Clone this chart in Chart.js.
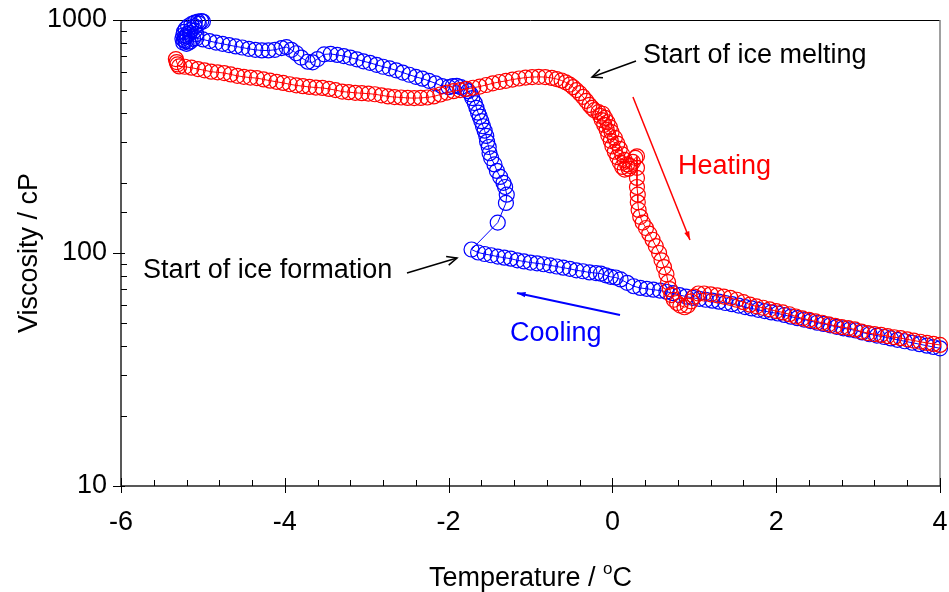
<!DOCTYPE html>
<html>
<head>
<meta charset="utf-8">
<script src="https://cdn.jsdelivr.net/npm/chart.js@4/dist/chart.umd.min.js"></script>
<style>
  body { margin: 0; background: #fff; }
</style>
</head>
<body>
<canvas id="myChart" width="949" height="592"></canvas>
<script>
// heating run (red), in measurement order
const heatTemp = [
  -5.33, -5.32, -5.31, -5.29, -5.22, -5.14, -5.06, -4.98, -4.90, -4.82,
  -4.74, -4.66, -4.58, -4.50, -4.42, -4.34, -4.26, -4.18, -4.10, -4.02,
  -3.94, -3.86, -3.78, -3.70, -3.62, -3.54, -3.46, -3.38, -3.30, -3.22,
  -3.14, -3.06, -2.98, -2.90, -2.82, -2.74, -2.66, -2.58, -2.50, -2.42,
  -2.34, -2.26, -2.18, -2.10, -2.02, -1.94, -1.86, -1.78, -1.70, -1.62,
  -1.54, -1.46, -1.38, -1.30, -1.22, -1.14, -1.06, -0.98, -0.90, -0.82,
  -0.74, -0.68, -0.62, -0.57, -0.52, -0.48, -0.44, -0.40, -0.36, -0.32,
  -0.28, -0.25, -0.22, -0.17, -0.12, -0.15, -0.09, -0.13, -0.06, -0.10,
  -0.03, -0.07, -0.01, -0.05, 0.03, -0.02, 0.06, 0.00, 0.09, 0.03,
  0.12, 0.06, 0.15, 0.09, 0.18, 0.12, 0.20, 0.15, 0.22, 0.25,
  0.28, 0.30, 0.30, 0.30, 0.30, 0.31, 0.31, 0.32, 0.34, 0.37,
  0.41, 0.45, 0.49, 0.53, 0.57, 0.60, 0.63, 0.66, 0.68, 0.70,
  0.72, 0.75, 0.79, 0.83, 0.88, 0.92, 0.96, 1.00, 1.05, 1.12,
  1.20, 1.28, 1.36, 1.44, 1.52, 1.60, 1.68, 1.76, 1.84, 1.92,
  2.00, 2.08, 2.16, 2.24, 2.32, 2.40, 2.48, 2.56, 2.64, 2.72,
  2.80, 2.88, 2.96, 3.04, 3.12, 3.20, 3.28, 3.36, 3.44, 3.52,
  3.60, 3.68, 3.76, 3.84, 3.92, 4.00
];
const heatVisc = [
  680, 660, 645, 632, 630, 624, 616, 608, 600, 596,
  592, 584, 576, 570, 566, 563, 556, 549, 543, 537,
  530, 524, 520, 516, 513, 511, 506, 500, 493, 490,
  487, 485, 483, 480, 475, 470, 467, 465, 463, 462,
  463, 465, 470, 479, 488, 495, 500, 506, 512, 518,
  526, 535, 542, 548, 555, 561, 566, 569, 570, 569,
  564, 558, 550, 540, 528, 515, 500, 485, 468, 450,
  432, 420, 410, 402, 396, 388, 380, 372, 364, 355,
  347, 338, 330, 320, 312, 303, 295, 287, 280, 272,
  265, 258, 251, 245, 240, 234, 230, 228, 236, 246,
  256, 260, 232, 210, 192, 178, 165, 153, 143, 135,
  128, 121, 114, 107, 100, 93, 87, 81, 75, 70,
  66, 63, 61, 59.5, 58.5, 59.5, 62, 65, 67, 67,
  66.5, 65.8, 65, 64.2, 63, 61.5, 60, 59, 58.2, 57.3,
  56.3, 55.6, 54.6, 53.4, 52.4, 51.6, 50.9, 50.2, 49.4, 48.7,
  48.1, 47.6, 47.0, 46.0, 45.3, 44.9, 44.5, 44.0, 43.5, 43.1,
  42.6, 42.1, 41.6, 41.1, 40.7, 40.3
];

// cooling run (blue), in measurement order
const coolTemp = [
  4.00, 3.92, 3.84, 3.75, 3.66, 3.57, 3.48, 3.40, 3.32, 3.23,
  3.14, 3.05, 2.97, 2.90, 2.82, 2.74, 2.66, 2.58, 2.50, 2.42,
  2.34, 2.26, 2.18, 2.10, 2.02, 1.94, 1.86, 1.78, 1.70, 1.62,
  1.54, 1.46, 1.38, 1.30, 1.22, 1.14, 1.06, 0.98, 0.90, 0.82,
  0.74, 0.66, 0.58, 0.50, 0.42, 0.34, 0.26, 0.18, 0.10, 0.04,
  -0.02, -0.08, -0.14, -0.20, -0.28, -0.36, -0.44, -0.52, -0.60, -0.68,
  -0.76, -0.84, -0.92, -1.00, -1.08, -1.16, -1.24, -1.32, -1.40, -1.48,
  -1.56, -1.64, -1.72, -1.40, -1.30, -1.29, -1.31, -1.33, -1.37, -1.41,
  -1.44, -1.48, -1.50, -1.51, -1.53, -1.54, -1.56, -1.58, -1.60, -1.62,
  -1.64, -1.66, -1.68, -1.71, -1.73, -1.76, -1.80, -1.85, -1.90, -1.95,
  -2.00, -2.08, -2.16, -2.24, -2.32, -2.40, -2.48, -2.56, -2.64, -2.72,
  -2.80, -2.88, -2.96, -3.04, -3.12, -3.20, -3.28, -3.36, -3.44, -3.52,
  -3.60, -3.66, -3.72, -3.80, -3.86, -3.92, -3.98, -4.04, -4.12, -4.20,
  -4.28, -4.36, -4.44, -4.52, -4.60, -4.68, -4.76, -4.84, -4.92, -5.00,
  -5.08, -5.15, -5.20, -5.24, -5.25, -5.24, -5.23, -5.21, -5.18, -5.14,
  -5.10, -5.06, -5.02, -5.00, -5.05, -5.10, -5.15, -5.19, -5.22, -5.21,
  -5.17, -5.12, -5.08, -5.10, -5.16, -5.20, -5.23
];
const coolVisc = [
  39.0, 39.5, 40.0, 40.6, 41.2, 41.8, 42.4, 43.0, 43.6, 44.2,
  44.8, 45.6, 46.5, 47.0, 47.5, 48.2, 48.9, 49.6, 50.2, 51.0,
  51.8, 52.5, 53.3, 54.2, 55.0, 55.6, 56.3, 57.0, 57.8, 58.6,
  59.5, 60.3, 61.0, 61.8, 62.4, 63.0, 63.6, 64.2, 65.0, 66.0,
  67.2, 68.2, 69.0, 69.6, 70.2, 70.8, 72.0, 74.5, 77.0, 78.5,
  79.0, 80.2, 81.5, 82.0, 82.5, 83.5, 84.3, 85.5, 86.5, 87.5,
  88.5, 89.5, 90.3, 91.0, 92.0, 93.0, 94.5, 95.5, 96.5, 97.8,
  99.0, 100.5, 103.5, 135, 164, 178, 192, 200, 212, 225,
  240, 255, 268, 285, 300, 318, 335, 350, 368, 385,
  400, 420, 440, 462, 480, 495, 505, 515, 522, 520,
  515, 520, 535, 548, 560, 570, 582, 595, 608, 620,
  630, 642, 655, 665, 678, 690, 700, 708, 715, 712,
  680, 658, 662, 690, 720, 745, 765, 758, 745, 740,
  740, 745, 752, 762, 770, 780, 790, 800, 812, 825,
  835, 810, 790, 800, 830, 860, 890, 915, 940, 960,
  975, 985, 990, 985, 965, 940, 905, 870, 840, 810,
  800, 830, 870, 900, 880, 850, 820
];

const xTickLabels = [-6, -4, -2, 0, 2, 4];
const yTickLabels = [10, 100, 1000];

const FONT = "'Liberation Sans', Arial, sans-serif";

function toPoints(temps, visc) {
  return temps.map((t, i) => ({ x: t, y: visc[i] }));
}

// text + arrows placed in data coordinates
const notes = [
  { text: "Start of ice melting", x: 0.374, y: 707, color: "#000" },
  { text: "Start of ice formation", x: -5.73, y: 83.7, color: "#000" },
  { text: "Heating", x: 0.801, y: 236, color: "#ff0000" },
  { text: "Cooling", x: -1.25, y: 44.9, color: "#0000ff" },
];
const arrows = [
  { from: [0.288, 667], to: [-0.249, 569], color: "#000", width: 1.5, head: "open" },
  { from: [-2.508, 82.1], to: [-1.897, 95.2], color: "#000", width: 1.5, head: "open" },
  { from: [0.251, 467], to: [0.947, 113.7], color: "#ff0000", width: 1.5, head: "solid" },
  { from: [0.093, 54.2], to: [-1.165, 67.4], color: "#0000ff", width: 2, head: "solid" },
];

const frame = {
  id: "frame",
  beforeDatasetsDraw(chart) {
    const { ctx, chartArea: a, scales: { x, y } } = chart;
    ctx.save();
    ctx.lineCap = "butt";
    // top and right edges of the box
    ctx.strokeStyle = "#000";
    ctx.lineWidth = 1;
    ctx.beginPath();
    ctx.moveTo(a.left, a.top + 0.5);
    ctx.lineTo(a.right, a.top + 0.5);
    ctx.stroke();
    ctx.strokeStyle = "#808080";
    ctx.lineWidth = 1.5;
    ctx.beginPath();
    ctx.moveTo(a.right, a.top);
    ctx.lineTo(a.right, a.bottom);
    ctx.stroke();
    // axes
    ctx.strokeStyle = "#222";
    ctx.lineWidth = 1.5;
    ctx.beginPath();
    ctx.moveTo(a.left, a.top);
    ctx.lineTo(a.left, a.bottom);
    ctx.lineTo(a.right, a.bottom);
    ctx.stroke();
    // y ticks: majors cross the axis, minors point inwards
    ctx.lineWidth = 1;
    ctx.strokeStyle = "#000";
    ctx.beginPath();
    for (const t of y.ticks) {
      const py = Math.round(y.getPixelForValue(t.value)) + 0.5;
      const lg = Math.log10(t.value);
      const major = Math.abs(lg - Math.round(lg)) < 1e-9;
      ctx.moveTo(a.left - (major ? 8 : 0), py);
      ctx.lineTo(a.left + (major ? 4 : 6), py);
    }
    // x ticks every 0.4, majors every 2
    for (let k = 0; k <= 25; k++) {
      const v = x.min + k * 0.4;
      const px = Math.round(x.getPixelForValue(v)) + 0.5;
      const major = k % 5 === 0;
      ctx.moveTo(px, a.bottom + (major ? 7 : 0));
      ctx.lineTo(px, a.bottom - (major ? 8 : 6));
    }
    ctx.stroke();
    ctx.restore();
  },
  afterDraw(chart) {
    const { ctx, chartArea: a, scales: { x, y } } = chart;
    ctx.save();
    // annotations
    ctx.font = "27px " + FONT;
    ctx.textBaseline = "middle";
    ctx.textAlign = "left";
    for (const n of notes) {
      ctx.fillStyle = n.color;
      ctx.fillText(n.text, x.getPixelForValue(n.x), y.getPixelForValue(n.y));
    }
    for (const ar of arrows) {
      const x0 = x.getPixelForValue(ar.from[0]), y0 = y.getPixelForValue(ar.from[1]);
      const x1 = x.getPixelForValue(ar.to[0]), y1 = y.getPixelForValue(ar.to[1]);
      const ang = Math.atan2(y1 - y0, x1 - x0);
      ctx.strokeStyle = ar.color;
      ctx.fillStyle = ar.color;
      ctx.lineWidth = ar.width;
      ctx.beginPath();
      ctx.moveTo(x0, y0);
      ctx.lineTo(x1, y1);
      ctx.stroke();
      if (ar.head === "open") {
        const L = 11, w = 0.42;
        ctx.beginPath();
        ctx.moveTo(x1 - L * Math.cos(ang - w), y1 - L * Math.sin(ang - w));
        ctx.lineTo(x1, y1);
        ctx.lineTo(x1 - L * Math.cos(ang + w), y1 - L * Math.sin(ang + w));
        ctx.stroke();
      } else {
        const L = 9, w = 0.3;
        ctx.beginPath();
        ctx.moveTo(x1, y1);
        ctx.lineTo(x1 - L * Math.cos(ang - w), y1 - L * Math.sin(ang - w));
        ctx.lineTo(x1 - L * Math.cos(ang + w), y1 - L * Math.sin(ang + w));
        ctx.closePath();
        ctx.fill();
      }
    }
    // x axis title with superscript o
    const big = "27px " + FONT, small = "17px " + FONT;
    ctx.fillStyle = "#000";
    ctx.textBaseline = "alphabetic";
    ctx.font = big;
    const part1 = "Temperature / ";
    const w1 = ctx.measureText(part1).width;
    const w3 = ctx.measureText("C").width;
    ctx.font = small;
    const w2 = ctx.measureText("o").width;
    let tx = (a.left + a.right) / 2 - (w1 + w2 + w3) / 2;
    const base = 586;
    ctx.font = big;
    ctx.fillText(part1, tx, base);
    tx += w1;
    ctx.font = small;
    ctx.fillText("o", tx, base - 12);
    tx += w2;
    ctx.font = big;
    ctx.fillText("C", tx, base);
    ctx.restore();
  },
};

const ctx = document.getElementById("myChart");

const chart = new Chart(ctx, {
  type: "scatter",
  data: {
    datasets: [
      {
        label: "Heating",
        data: toPoints(heatTemp, heatVisc),
        showLine: true,
        borderColor: "#ff0000",
        borderWidth: 1,
        pointRadius: 7.5,
        pointBorderWidth: 1.2,
        pointBorderColor: "#ff0000",
        pointBackgroundColor: "rgba(0,0,0,0)",
        clip: false,
      },
      {
        label: "Cooling",
        data: toPoints(coolTemp, coolVisc),
        showLine: true,
        borderColor: "#0000ff",
        borderWidth: 1,
        pointRadius: 7.5,
        pointBorderWidth: 1.2,
        pointBorderColor: "#0000ff",
        pointBackgroundColor: "rgba(0,0,0,0)",
        clip: false,
      },
    ],
  },
  options: {
    responsive: false,
    animation: false,
    layout: { padding: { top: 20, right: 9, left: 0, bottom: 0 } },
    plugins: {
      legend: { display: false },
      tooltip: { enabled: false },
    },
    scales: {
      x: {
        type: "linear",
        min: -6,
        max: 4,
        grid: { display: false, drawTicks: false },
        border: { display: false },
        ticks: {
          stepSize: 2,
          padding: 20,
          color: "#000",
          font: { family: FONT, size: 27 },
          callback: (v) => (xTickLabels.includes(v) ? String(v) : ""),
        },
        afterFit: (s) => {
          s.height = 106;
          s.paddingLeft = 0;
          s.paddingRight = 0;
        },
      },
      y: {
        type: "logarithmic",
        min: 10,
        max: 1000,
        grid: { display: false, drawTicks: false },
        border: { display: false },
        ticks: {
          autoSkip: false,
          padding: 14,
          color: "#000",
          font: { family: FONT, size: 27 },
          callback: (v) => (yTickLabels.includes(v) ? String(v) : ""),
        },
        title: {
          display: true,
          text: "Viscosity / cP",
          color: "#000",
          font: { family: FONT, size: 27 },
          padding: { top: 13, bottom: 0 },
        },
        afterFit: (s) => {
          s.width = 121;
          s.paddingTop = 0;
          s.paddingBottom = 0;
        },
      },
    },
  },
  plugins: [frame],
});
</script>
</body>
</html>
